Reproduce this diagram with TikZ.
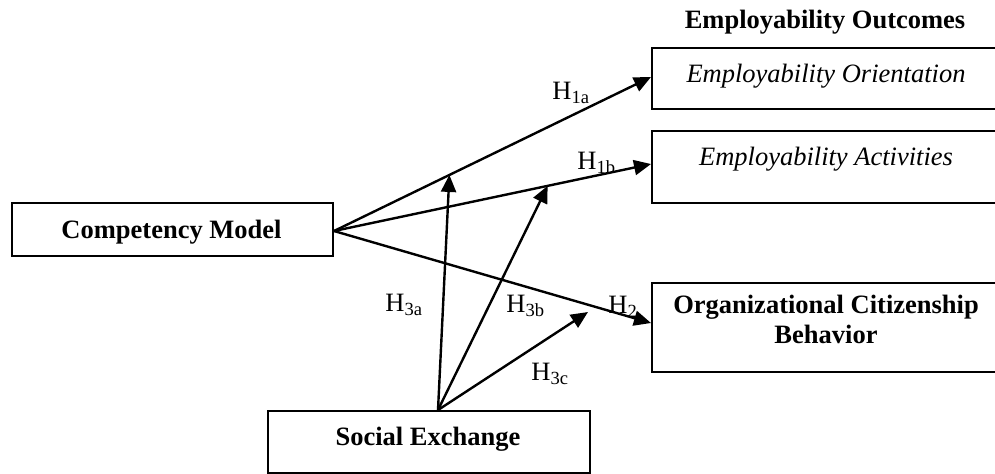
\documentclass[tikz,border=0pt]{standalone}
\usepackage{fontspec}
\setmainfont{Liberation Serif}
\usetikzlibrary{arrows.meta,calc}
\begin{document}
\begin{tikzpicture}[x=0.5pt,y=-0.5pt,
  box/.style={draw, line width=1pt, inner sep=0pt, anchor=north west},
  txt/.style={anchor=base, inner sep=0pt, font=\fontsize{13.25}{15}\selectfont},
  lbl/.style={anchor=base west, inner sep=0pt, font=\fontsize{13.25}{15}\selectfont},
  arr/.style={line width=1.2pt, -{Triangle[length=8.5pt,width=7.5pt]}}]
\useasboundingbox (0,0) rectangle (995,473);
% boxes
\node[box, minimum width=160.5pt, minimum height=26.5pt] (comp) at (11,202) {};
\node[box, minimum width=175pt, minimum height=30.5pt] (eo) at (651,47) {};
\node[box, minimum width=175pt, minimum height=36pt] (ea) at (651,130) {};
\node[box, minimum width=175pt, minimum height=44.5pt] (ocb) at (651,282) {};
\node[box, minimum width=161pt, minimum height=31pt] (se) at (267,410) {};
% texts
\node[txt] (title) at (825,28) {\bfseries Employability Outcomes};
\node[txt] (tcomp) at (171.5,238) {\bfseries Competency Model};
\node[txt] (teo) at (826,82) {\itshape Employability Orientation};
\node[txt] (tea) at (826,165) {\itshape Employability Activities};
\node[txt] (tocb1) at (826,313) {\bfseries Organizational Citizenship};
\node[txt] (tocb2) at (826,343) {\bfseries Behavior};
\node[txt] (tse) at (428,445) {\bfseries Social Exchange};
% connectors
\coordinate (cm) at ([yshift=-0.75pt]comp.east);
\coordinate (teoa) at ([yshift=0.75pt]eo.west);
\coordinate (teab) at ([yshift=1.5pt]ea.west);
\coordinate (tocbc) at ([yshift=2.25pt]ocb.west);
\coordinate (sx) at ([xshift=4.5pt]se.north);
\draw[arr] (cm) -- (teoa);
\draw[arr] (cm) -- (teab);
\draw[arr] (cm) -- (tocbc);
\coordinate (p3a) at ($(cm)!0.364!(teoa)$);
\coordinate (p3b) at ($(cm)!0.674!(teab)$);
\coordinate (p3c) at (588,312);
\draw[arr] (sx) -- (p3a);
\draw[arr] (sx) -- (p3b);
\draw[arr] (sx) -- (p3c);
% labels
\node[lbl] (h1a) at (552,99) {H\textsubscript{1a}};
\node[lbl] (h1b) at (577,169) {H\textsubscript{1b}};
\node[lbl] (h2) at (608,313) {H\textsubscript{2}};
\node[lbl] (h3a) at (385,311) {H\textsubscript{3a}};
\node[lbl] (h3b) at (506,312) {H\textsubscript{3b}};
\node[lbl] (h3c) at (531,380) {H\textsubscript{3c}};
\end{tikzpicture}
\end{document}
